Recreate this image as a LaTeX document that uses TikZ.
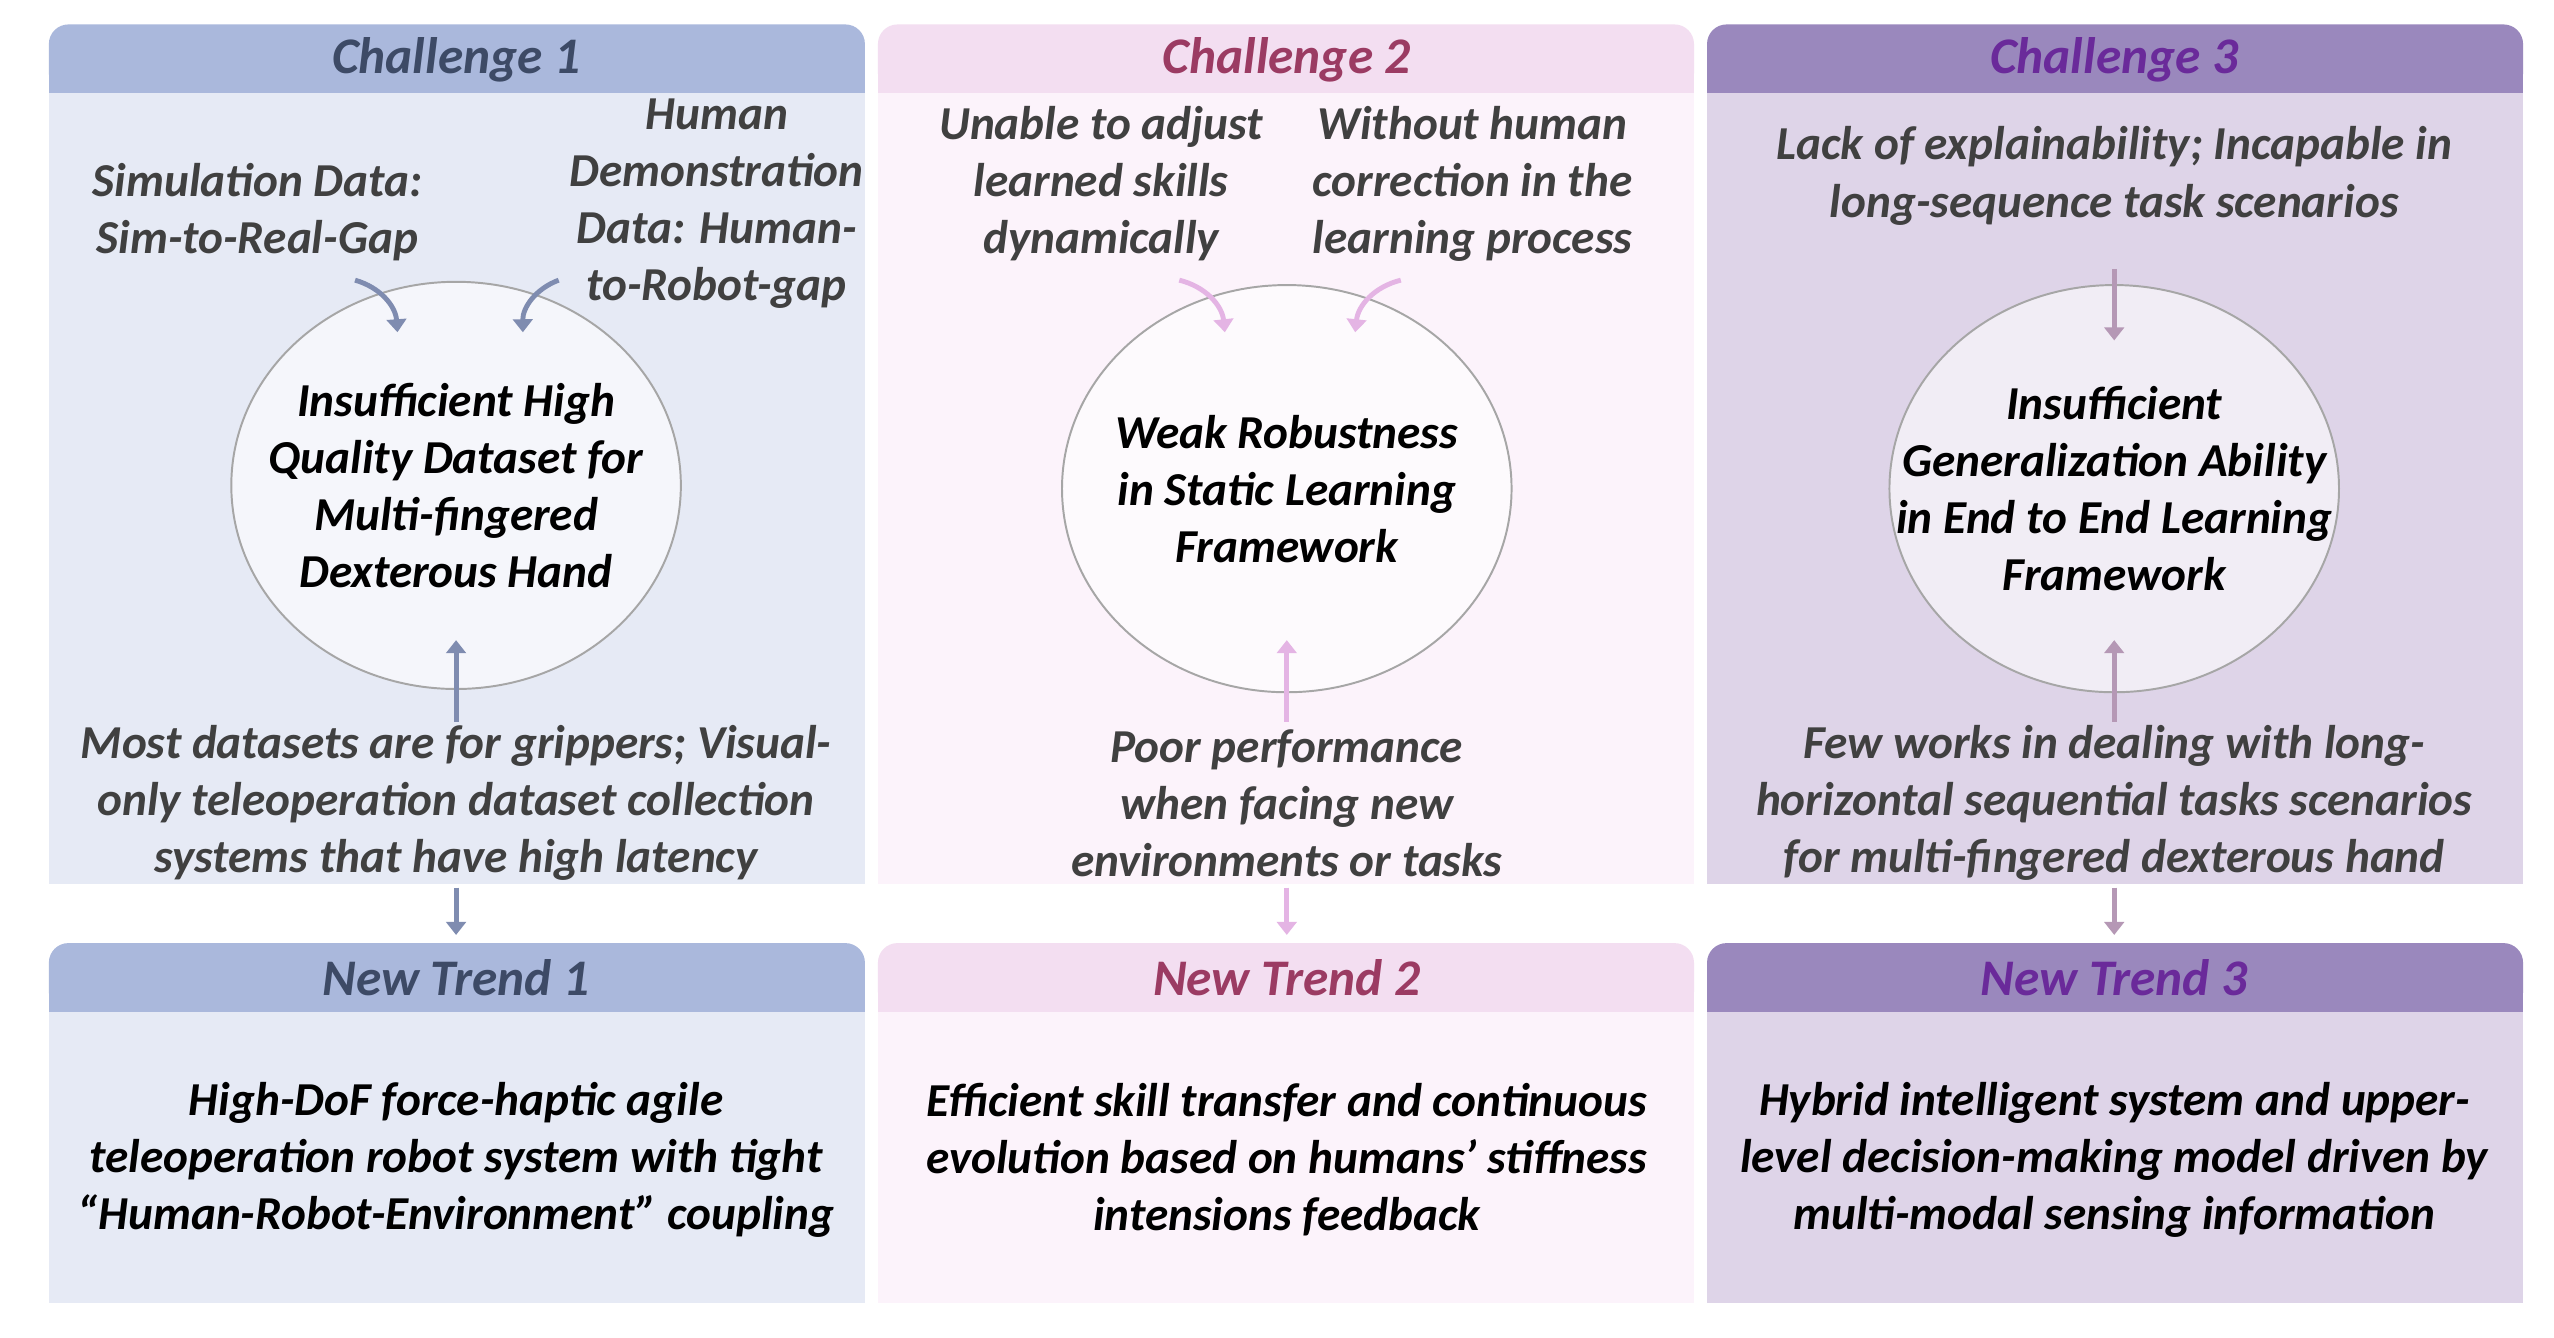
\documentclass[tikz,border=0pt]{standalone}
\usepackage{fontspec}
\setmainfont{Carlito}
\usetikzlibrary{arrows.meta,shapes.geometric}
\definecolor{hA}{HTML}{AAB8DC}\definecolor{bA}{HTML}{E6EAF5}\definecolor{tA}{HTML}{3D4A66}\definecolor{aA}{HTML}{7F8CB0}
\definecolor{hB}{HTML}{F3DEF1}\definecolor{bB}{HTML}{FCF3FB}\definecolor{tB}{HTML}{9B3B63}\definecolor{aB}{HTML}{E4B4E4}
\definecolor{hC}{HTML}{9A88BD}\definecolor{bC}{HTML}{DED4E8}\definecolor{tC}{HTML}{6A2A9A}\definecolor{aC}{HTML}{B598B5}
\definecolor{txt}{HTML}{404040}
\tikzset{
 t/.style={font=\fontsize{29}{35}\selectfont\bfseries\itshape,text=txt,align=center,inner sep=0},
 k/.style={t,text=black},
 hd/.style={font=\fontsize{31.5}{36}\selectfont\bfseries\itshape,inner sep=0},
 circ/.style={draw=gray!70,line width=1.2pt,fill=white,fill opacity=0.6},
 ar/.style={line width=3pt,-{Triangle[length=8pt,width=12pt]}}
}
\begin{document}
\begin{tikzpicture}[x=1pt,y=-1pt]
\useasboundingbox (0,0) rectangle (1568,821);
\fill[white] (0,0) rectangle (1568,821);
\foreach \x/\c in {30/A,539/B,1048/C}{
 \fill[b\c] (\x,50) rectangle ++(501,493);
 \fill[h\c,rounded corners=12pt] (\x,15) rectangle ++(501,42);
 \fill[h\c] (\x,40) rectangle ++(501,17);
 \fill[b\c] (\x,615) rectangle ++(501,185);
 \fill[h\c,rounded corners=12pt] (\x,579) rectangle ++(501,42);
 \fill[h\c] (\x,600) rectangle ++(501,21);
}
\node[hd,text=tA] (h1) at (280,37) {Challenge 1};
\node[hd,text=tB] (h2) at (790,37) {Challenge 2};
\node[hd,text=tC] (h3) at (1298,37) {Challenge 3};
\node[hd,text=tA] (n1) at (280,600) {New Trend 1};
\node[hd,text=tB] (n2) at (790,600) {New Trend 2};
\node[hd,text=tC] (n3) at (1298,600) {New Trend 3};
\draw[circ] (280,298) ellipse [x radius=138,y radius=125];
\draw[circ] (790,300) ellipse [x radius=138,y radius=125];
\draw[circ] (1298,300) ellipse [x radius=138,y radius=125];
\node[k] (c1) at (280,298) {Insufficient High\\Quality Dataset for\\Multi-fingered\\Dexterous Hand};
\node[k] (c2) at (790,300) {Weak Robustness\\in Static Learning\\Framework};
\node[k] (c3) at (1298,300) {Insufficient\\Generalization Ability\\in End to End Learning\\Framework};
\node[t] (s1) at (158,130) {Simulation Data:\\Sim-to-Real-Gap};
\node[t] (s2) at (440,125) {Human\\Demonstration\\Data: Human-\\to-Robot-gap};
\node[t] (b1) at (280,493) {Most datasets are for grippers; Visual-\\only teleoperation dataset collection\\systems that have high latency};
\node[t] (s3) at (676,113) {Unable to adjust\\learned skills\\dynamically};
\node[t] (s4) at (904,113) {Without human\\correction in the\\learning process};
\node[t] (b2) at (790,493) {Poor performance\\when facing new\\environments or tasks};
\node[t] (s5) at (1298,108) {Lack of explainability; Incapable in\\long-sequence task scenarios};
\node[t] (b3) at (1298,493) {Few works in dealing with long-\\horizontal sequential tasks scenarios\\for multi-fingered dexterous hand};
\node[k] (m1) at (280,712) {High-DoF force-haptic agile\\teleoperation robot system with tight\\“Human-Robot-Environment” coupling};
\node[k] (m2) at (790,712) {Efficient skill transfer and continuous\\evolution based on humans’ stiffness\\intensions feedback};
\node[k] (m3) at (1298,712) {Hybrid intelligent system and upper-\\level decision-making model driven by\\multi-modal sensing information};
\coordinate (a1s) at (218,172); \coordinate (a1e) at (244,204);
\coordinate (a2s) at (343,172); \coordinate (a2e) at (321,204);
\draw[ar,aA] (a1s) to[bend left=35] (a1e);
\draw[ar,aA] (a2s) to[bend right=35] (a2e);
\coordinate (a3s) at (724,172); \coordinate (a3e) at (752,204);
\coordinate (a4s) at (860,172); \coordinate (a4e) at (832,204);
\draw[ar,aB] (a3s) to[bend left=35] (a3e);
\draw[ar,aB] (a4s) to[bend right=35] (a4e);
\coordinate (a5s) at (1298,165); \coordinate (a5e) at (1298,209);
\draw[ar,aC] (a5s) -- (a5e);
\foreach \x/\c in {280/A,790/B,1298/C}{
 \draw[ar,a\c] (\x,443) -- (\x,393);
 \draw[ar,a\c] (\x,545) -- (\x,574);
}
\end{tikzpicture}
\end{document}
